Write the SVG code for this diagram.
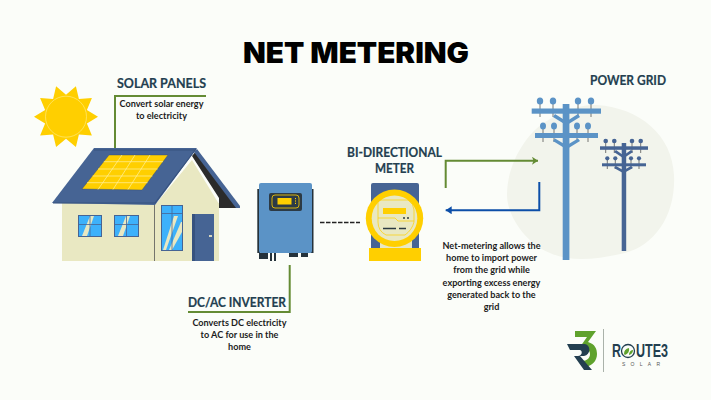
<svg xmlns="http://www.w3.org/2000/svg" width="711" height="400" viewBox="0 0 711 400">
<style>
.t{font-family:"Inter","Liberation Sans",sans-serif;font-weight:900;fill:#000;text-anchor:middle}
.h{font-family:"Lato","Liberation Sans",sans-serif;font-weight:700;font-size:14px;fill:#233f50;text-anchor:middle;stroke:#233f50;stroke-width:.2}
.b{font-family:"Lato","Noto Sans",sans-serif;font-weight:700;font-size:9.1px;fill:#1c1c1c;text-anchor:middle}
.l{fill:none;stroke:#648b34;stroke-width:2}
.bl{fill:none;stroke:#0c4ea8;stroke-width:2}
.pole{fill:#5b93c6}
.pole2{fill:#466494}
.wire{stroke:#555;stroke-width:.8}
.win{fill:#3db1fb;stroke:#466494;stroke-width:1}
.glare{fill:#e9e8c2}
</style>
<defs>
<marker id="ag" markerUnits="userSpaceOnUse" markerWidth="7" markerHeight="8" refX="6" refY="4" orient="auto"><path d="M0 0L6 4L0 8L1.500 4Z" fill="#648b34"/></marker>
<marker id="ab" markerUnits="userSpaceOnUse" markerWidth="7" markerHeight="8" refX="6" refY="4" orient="auto"><path d="M0 0L6 4L0 8Z" fill="#0c4ea8"/></marker>
</defs>
<rect width="711" height="400" fill="#fbfdf9"/>
<path d="M597 105C640 108 672 135 674 175C676 215 655 245 625 253C595 260 570 262 550 253C525 243 507 215 507 195C507 165 525 135 545 122C560 112 580 104 597 105Z" fill="#f2f4ec"/>
<text class="t" x="356" y="63" font-size="29" textLength="226" lengthAdjust="spacingAndGlyphs">NET METERING</text>

<g id="sun">
<polygon fill="#ffcf00" points="98,116.700 86.900,123.500 91.900,135.500 78.900,134.500 75.900,147.100 66,138.700 56.100,147.100 53.100,134.500 40.100,135.500 45.100,123.500 34,116.700 45.100,109.900 40.100,97.900 53.100,98.900 56.100,86.300 66,94.700 75.900,86.300 78.900,98.900 91.900,97.900 86.900,109.900"/>
<circle cx="66" cy="116.700" r="20.500" fill="#ffcf00" stroke="#ffe97a" stroke-width=".7"/>
</g>

<g id="solar-panels">
<text class="h" x="161.500" y="88" textLength="89" lengthAdjust="spacingAndGlyphs">SOLAR PANELS</text>
<text class="b" x="161.500" y="107">Convert solar energy</text>
<text class="b" x="161.500" y="119">to electricity</text>
</g>

<g id="house">
<rect x="62" y="203" width="157" height="58" fill="#e9e8c2"/>
<polygon points="155,205 192,160 219,204 219,203" fill="#e9e8c2"/>
<polygon points="192,156 197,150 240,208 219,208 219,198" fill="#2b2b2b"/>
<polygon points="197,149 240,206 240,208 236,208 194,152" fill="#466494"/>
<polygon points="94,148 197,148 155,205 52,203" fill="#466494"/>
<path d="M94 150H196M53 203H155L196 149" fill="none" stroke="#37527f" stroke-width="1.200"/>
<polygon points="109,155 168,155 142,190 82,189" fill="#ffcf00" stroke="#2f4a70" stroke-width=".4"/>
<path d="M103.800 161.700H163M98 169H157.600M92.600 176H152.400M87 182.700H147.600M122 155L98 189.500M135 155L113 189.500M150 155L128 189.500" fill="none" stroke="#fff1a0" stroke-width=".7"/>
<path d="M154.500 205V261" stroke="#555" stroke-width=".8"/>
<rect x="78.500" y="215.500" width="23" height="21" class="win"/>
<polygon points="90,216 94,216 87,236 82,236" class="glare"/>
<path d="M90 215.500V236.500M78.500 224.500H101.500" stroke="#466494" stroke-width=".8"/>
<rect x="114.500" y="215.500" width="24" height="21" class="win"/>
<polygon points="126,216 130,216 123,236 118,236" class="glare"/>
<path d="M126.500 215.500V236.500M114.500 224.500H138.500" stroke="#466494" stroke-width=".8"/>
<rect x="161.500" y="205.500" width="21" height="45" class="win"/>
<polygon points="174,216 178,216 166,250 163,250" class="glare"/>
<polygon points="181,222 182,222 182,232 172,250 169,250" class="glare"/>
<path d="M172 205.500V250.500M161.500 213.500H182.500" stroke="#466494" stroke-width=".8"/>
<rect x="192" y="214" width="22" height="47" fill="#466494"/>
<rect x="192" y="214" width="3" height="47" fill="#37527f"/>
<rect x="209" y="235" width="3" height="2" fill="#d6d6c0"/>
</g>

<g id="connectors">
<path class="l" d="M115 148V96H206"/>
<path class="l" d="M289.700 265V312H188"/>
<path d="M320 222.500H360" fill="none" stroke="#222" stroke-width="1.600" stroke-dasharray="4.500 1.500"/>
<path class="l" d="M445.700 188V160.700H538" marker-end="url(#ag)"/>
<path class="bl" d="M539.300 182V210.300H445.700" marker-end="url(#ab)"/>
</g>

<g id="inverter">
<rect x="257.300" y="189" width="3" height="64" fill="#25323b"/>
<rect x="310.500" y="189" width="3" height="64" fill="#25323b"/>
<rect x="259" y="183" width="53" height="70" rx="2" fill="#5b93c6"/>
<rect x="269" y="193" width="33" height="18" rx="2" fill="#2c3a45"/>
<rect x="272" y="195" width="27" height="13" rx="3" fill="none" stroke="#ffcf00" stroke-width=".8"/>
<rect x="277.500" y="198" width="14" height="6.500" fill="#ffcf00"/>
<path d="M295.500 198V205" stroke="#ffcf00" stroke-width="1" stroke-dasharray="1.200 1.200"/>
<rect x="259" y="253" width="9" height="6" fill="#25323b"/>
<rect x="270" y="253" width="2" height="8" fill="#25323b"/>
<rect x="274" y="253" width="2" height="8" fill="#25323b"/>
<rect x="289" y="253" width="9" height="4" fill="#25323b"/>
<rect x="301" y="253" width="7" height="4" fill="#25323b"/>
<text class="h" x="237" y="307" textLength="98" lengthAdjust="spacingAndGlyphs">DC/AC INVERTER</text>
<text class="b" x="239.500" y="326">Converts DC electricity</text>
<text class="b" x="239.500" y="338">to AC for use in the</text>
<text class="b" x="239.500" y="350">home</text>
</g>

<g id="meter">
<rect x="371" y="183" width="48" height="70" rx="2" fill="#466494"/>
<rect x="380" y="240" width="32" height="10" fill="#e9e8c2"/>
<rect x="369" y="248" width="52" height="13" fill="#ffcf00"/>
<circle cx="394.500" cy="218.300" r="28.700" fill="#ffcf00"/>
<circle cx="394.500" cy="218.300" r="22.800" fill="#e9e8c2"/>
<path d="M378 218V202Q378 200 380 200H408Q414 204 414 210V222Q412 230 405 235H386Q378 231 378 222V218H395L398 221H414" fill="none" stroke="#ffcf00" stroke-width=".7"/>
<rect x="383" y="208" width="23" height="6" fill="#ffcf00"/>
<circle cx="404" cy="218" r="1" fill="#2b3a42"/><circle cx="408" cy="218" r="1" fill="#2b3a42"/>
<path d="M383 228.500H396M399 228.500H406" stroke="#2b3a42" stroke-width="1.500"/>
<text class="h" x="394.500" y="157" textLength="95" lengthAdjust="spacingAndGlyphs">BI-DIRECTIONAL</text>
<text class="h" x="394.500" y="173" textLength="39" lengthAdjust="spacingAndGlyphs">METER</text>
</g>

<g id="power-grid">
<text class="h" x="628" y="85" textLength="76" lengthAdjust="spacingAndGlyphs">POWER GRID</text>
<g class="wire"><path d="M540 100V117M553 100V117M578 100V117M591 100V117M543 127V142M554 127V142M577 127V142M588 127V142"/></g>
<g class="pole">
<rect x="562.700" y="104" width="6.700" height="156"/>
<rect x="531.700" y="108.500" width="69.300" height="5.200"/>
<rect x="535" y="133" width="63" height="5"/>
<path d="M555 114L566 121V125L553 117ZM578 114L567 121V125L580 117ZM555 138.500L566 145V149L553 141ZM578 138.500L567 145V149L580 141Z"/>
<ellipse cx="540" cy="101" rx="3.200" ry="3.500"/><ellipse cx="553" cy="101" rx="3.200" ry="3.500"/><ellipse cx="578" cy="101" rx="3.200" ry="3.500"/><ellipse cx="591" cy="101" rx="3.200" ry="3.500"/>
<ellipse cx="543" cy="126" rx="3" ry="3.500"/><ellipse cx="554" cy="126" rx="3" ry="3.500"/><ellipse cx="577" cy="126" rx="3" ry="3.500"/><ellipse cx="588" cy="126" rx="3" ry="3.500"/>
</g>
<g class="wire"><path d="M605.700 142V153M614.300 142V153M632 142V153M640.700 142V153M607.300 158V169M615.300 158V169M631 158V169M639 158V169"/></g>
<g class="pole2">
<rect x="621.700" y="143" width="4.500" height="108"/>
<rect x="600" y="146.300" width="48" height="3.500"/>
<rect x="602" y="163.300" width="44" height="3"/>
<path d="M616 150L623 155V158L614 152ZM631 150L624 155V158L633 152ZM616 166L623 170V173L614 168ZM631 166L624 170V173L633 168Z"/>
<circle cx="605.700" cy="141" r="2.300"/><circle cx="614.300" cy="141" r="2.300"/><circle cx="632" cy="141" r="2.300"/><circle cx="640.700" cy="141" r="2.300"/>
<circle cx="607.300" cy="158.300" r="2.100"/><circle cx="615.300" cy="158.300" r="2.100"/><circle cx="631" cy="158.300" r="2.100"/><circle cx="639" cy="158.300" r="2.100"/>
</g>
<text class="b" x="491.500" y="249" font-size="9.200">Net-metering allows the</text>
<text class="b" x="491.500" y="261.200">home to import power</text>
<text class="b" x="491.500" y="273.400">from the grid while</text>
<text class="b" x="491.500" y="285.600">exporting excess energy</text>
<text class="b" x="491.500" y="297.800">generated back to the</text>
<text class="b" x="491.500" y="310">grid</text>
</g>

<g id="logo">
<path d="M575 331H596L588 342C595 344 597 349 597 354C597 361 592 366 585 367L582 361C587 361 590 358 590 354C590 350 586 347 580 347L587 337H575Z" fill="#5fa22d"/>
<path d="M567 344H585C591 345 591 355 584 356H580L592 370H584L574 356H578C582 356 583 351 580 350H570Z" fill="#233f50"/>
<rect x="603" y="329" width="1" height="43" fill="#aab2aa"/>
<text x="612" y="357" font-family="Liberation Sans,sans-serif" font-size="19" font-weight="700" fill="#233f50" textLength="9" lengthAdjust="spacingAndGlyphs">R</text>
<text x="636" y="357" font-family="Liberation Sans,sans-serif" font-size="19" font-weight="700" fill="#233f50" textLength="32" lengthAdjust="spacingAndGlyphs">UTE3</text>
<circle cx="628" cy="351" r="6.500" fill="none" stroke="#233f50" stroke-width="1.300"/>
<path d="M624 354Q624 349 629 348Q630 353 625 355ZM629 354Q630 350 633 350Q633 354 629 355Z" fill="#5fa22d"/>
<text x="622" y="365.500" font-family="Liberation Sans,sans-serif" font-size="5" fill="#555" textLength="38">SOLAR</text>
</g>
</svg>
